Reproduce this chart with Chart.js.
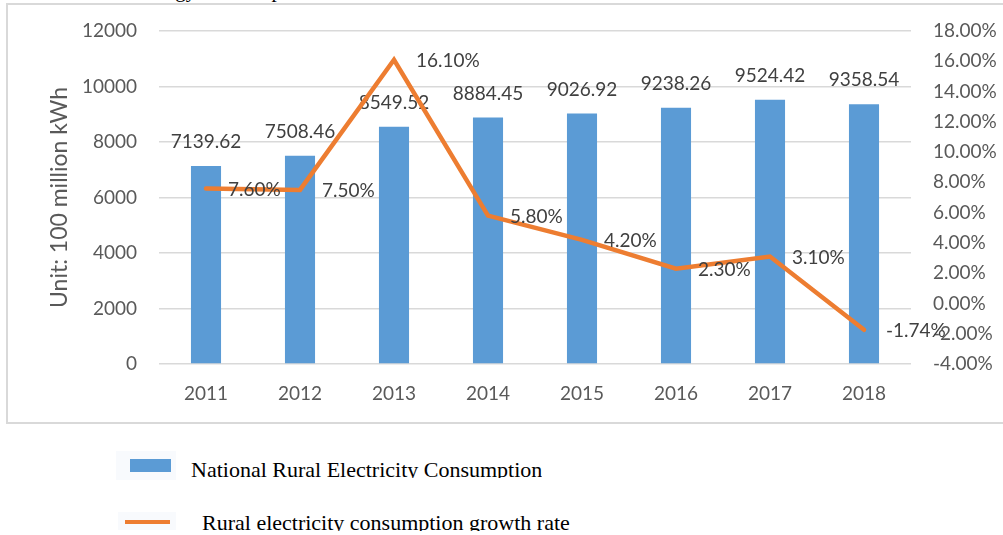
<!DOCTYPE html>
<html>
<head>
<meta charset="utf-8">
<script src="https://cdn.jsdelivr.net/npm/chart.js@4/dist/chart.umd.min.js"></script>
<style>
    body { margin: 0; background: #fff; width: 1003px; height: 535px; overflow: hidden; position: relative; }
    #grafico { position: absolute; left: 0; top: 0; }
    #marco { position: absolute; left: 6px; top: 3px; width: 1010px; height: 417px; border: 2px solid #d9d9d9; pointer-events: none; }
    #titulo { position: absolute; left: 136px; top: -20px; font: 21px 'Liberation Serif', serif; line-height: 21px; white-space: nowrap; color: #000; }
    .leyenda { position: absolute; font: 22px 'Liberation Serif', serif; line-height: 22px; height: 19px; overflow: hidden; white-space: nowrap; color: #000; }
    .marca { position: absolute; }
</style>
</head>
<body>
<div id="titulo">Energy Consumption</div>
<canvas id="grafico" width="1003" height="430"></canvas>
<div id="marco"></div>

<div class="marca" style="left:116px;top:451px;width:60px;height:29px;background:#f8fafd;"></div>
<div class="marca" style="left:130px;top:459px;width:41px;height:13px;background:#5B9BD5;"></div>
<div class="leyenda" style="left:191px;top:459px;">National Rural Electricity Consumption</div>

<div class="marca" style="left:118px;top:512px;width:58px;height:18px;background:#f8fafd;"></div>
<div class="marca" style="left:125px;top:520px;width:45px;height:4px;background:#ED7D31;"></div>
<div class="leyenda" style="left:202px;top:512px;">Rural electricity consumption growth rate</div>

<script>
// Datos del grafico
const anios = ['2011', '2012', '2013', '2014', '2015', '2016', '2017', '2018'];
const consumo = [7139.62, 7508.46, 8549.52, 8884.45, 9026.92, 9238.26, 9524.42, 9358.54];
const crecimiento = [7.60, 7.50, 16.10, 5.80, 4.20, 2.30, 3.10, -1.74];

const fuente = 'Lato';
const grisTexto = '#595959';

// Etiquetas de datos (barras debajo de la linea, porcentajes encima)
const etiquetasPlugin = {
    id: 'etiquetas',
    afterDatasetDraw(chart, args) {
        const ctx = chart.ctx;
        ctx.save();
        ctx.font = '19px ' + fuente;
        ctx.fillStyle = '#404040';
        ctx.textBaseline = 'middle';
        if (args.meta.type === 'bar') {
            ctx.textAlign = 'center';
            args.meta.data.forEach((bar, i) => {
                ctx.fillText(consumo[i].toFixed(2), bar.x, bar.y - 24);
            });
        } else {
            ctx.textAlign = 'left';
            args.meta.data.forEach((p, i) => {
                ctx.fillText(crecimiento[i].toFixed(2) + '%', p.x + 22, p.y + 1);
            });
        }
        ctx.restore();
    }
};

function crearGraficoCombinado(canvasId) {
    const ctx = document.getElementById(canvasId);
    if (!ctx) {
        console.error(`No se encontró el canvas con id: ${canvasId}`);
        return;
    }
    new Chart(ctx, {
        type: 'bar',
        data: {
            labels: anios,
            datasets: [
                {
                    type: 'line',
                    label: 'Rural electricity consumption growth rate',
                    data: crecimiento,
                    yAxisID: 'y2',
                    borderColor: '#ED7D31',
                    borderWidth: 4.5,
                    borderCapStyle: 'round',
                    borderJoinStyle: 'miter',
                    pointRadius: 0,
                    tension: 0,
                    order: 0
                },
                {
                    type: 'bar',
                    label: 'National Rural Electricity Consumption',
                    data: consumo,
                    yAxisID: 'y',
                    backgroundColor: '#5B9BD5',
                    barPercentage: 0.32,
                    categoryPercentage: 1,
                    order: 1
                }
            ]
        },
        options: {
            responsive: false,
            animation: false,
            devicePixelRatio: 1,
            layout: { padding: { top: 31, left: 0, right: 0, bottom: 0 } },
            plugins: {
                legend: { display: false },
                tooltip: { enabled: false }
            },
            scales: {
                x: {
                    grid: { display: false },
                    border: { display: false },
                    ticks: { color: grisTexto, font: { family: fuente, size: 19 }, padding: 10 },
                    afterFit: (s) => { s.height = 66; s.paddingLeft = 0; s.paddingRight = 0; }
                },
                y: {
                    position: 'left',
                    min: 0,
                    max: 12000,
                    ticks: {
                        stepSize: 2000,
                        color: grisTexto,
                        font: { family: fuente, size: 19 },
                        padding: 22,
                        callback: (v) => String(v)
                    },
                    grid: { color: '#d9d9d9', lineWidth: 1.5, drawTicks: false },
                    border: { display: false },
                    title: {
                        display: true,
                        text: 'Unit: 100 million kWh',
                        color: grisTexto,
                        font: { family: fuente, size: 23 },
                        padding: { top: 46, bottom: 0 }
                    },
                    afterFit: (s) => { s.width = 159; s.paddingTop = 0; s.paddingBottom = 0; }
                },
                y2: {
                    position: 'right',
                    min: -4,
                    max: 18,
                    ticks: {
                        stepSize: 2,
                        color: grisTexto,
                        font: { family: fuente, size: 19 },
                        padding: 22,
                        callback: (v) => v.toFixed(2) + '%'
                    },
                    grid: { display: false, drawTicks: false },
                    border: { display: false },
                    afterFit: (s) => { s.width = 92; s.paddingTop = 0; s.paddingBottom = 0; }
                }
            }
        },
        plugins: [etiquetasPlugin]
    });
}

crearGraficoCombinado('grafico');
</script>
</body>
</html>
